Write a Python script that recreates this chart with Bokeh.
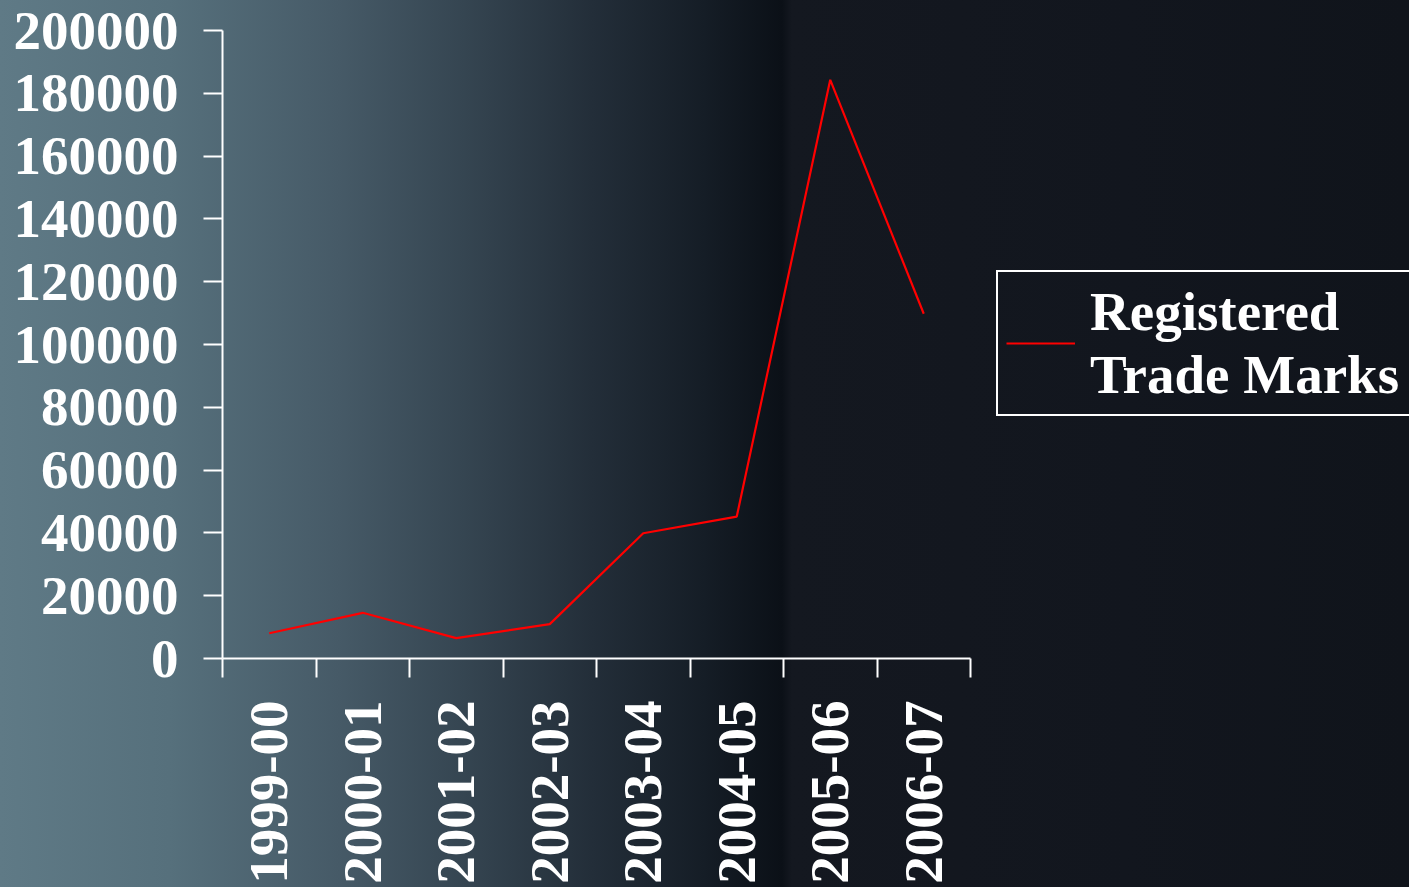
import math
from bokeh.plotting import figure
from bokeh.models import Range1d, FixedTicker, Legend, LegendItem, NumeralTickFormatter
from bokeh.embed import file_html
from bokeh.resources import INLINE

categories = ["1999-00", "2000-01", "2001-02", "2002-03", "2003-04", "2004-05", "2005-06", "2006-07"]
registered = [8050, 14550, 6500, 10950, 39900, 45200, 184300, 109800]
y_ticks = [0, 20000, 40000, 60000, 80000, 100000, 120000, 140000, 160000, 180000, 200000]
series_name = "Registered\nTrade Marks"

FONT = "Liberation Serif"
FSIZE = "55px"
WHITE = "#ffffff"

n = len(categories)
x_pos = [i + 0.5 for i in range(n)]

W, H = 1409, 887
LEFT, TOP, BOTTOM_Y, AXIS_RIGHT = 222, 30, 658, 970
unit = (AXIS_RIGHT - LEFT) / n
x_end = (W - LEFT) / unit

p = figure(width=W, height=H, output_backend="svg", toolbar_location=None,
           x_range=Range1d(0, x_end), y_range=Range1d(0, 200000),
           min_border_left=LEFT, min_border_right=0, min_border_top=TOP,
           min_border_bottom=H - BOTTOM_Y)
p.background_fill_alpha = 0
p.border_fill_alpha = 0
p.outline_line_color = None
p.grid.visible = False

r = p.line(x_pos, registered, line_color="#ff0000", line_width=2.2)

# x axis: ticks between categories, labels at category centres
xa = p.xaxis[0]
xa.bounds = (0, n)
xa.ticker = FixedTicker(ticks=x_pos, minor_ticks=list(range(n + 1)))
xa.major_label_overrides = {x: c for x, c in zip(x_pos, categories)}
xa.major_label_orientation = math.pi / 2
xa.major_tick_out = 0
xa.major_tick_in = 0
xa.minor_tick_out = 19
xa.minor_tick_in = 0
xa.minor_tick_line_color = WHITE
xa.minor_tick_line_width = 2
xa.axis_line_color = WHITE
xa.axis_line_width = 2
xa.major_label_standoff = 23
xa.major_label_text_font = FONT
xa.major_label_text_font_style = "bold"
xa.major_label_text_font_size = FSIZE
xa.major_label_text_color = WHITE

ya = p.yaxis[0]
ya.ticker = FixedTicker(ticks=y_ticks)
ya.formatter = NumeralTickFormatter(format="0")
ya.major_tick_out = 19
ya.major_tick_in = 0
ya.minor_tick_line_color = None
ya.major_tick_line_color = WHITE
ya.major_tick_line_width = 2
ya.axis_line_color = WHITE
ya.axis_line_width = 2
ya.major_label_standoff = 25
ya.major_label_text_font = FONT
ya.major_label_text_font_style = "bold"
ya.major_label_text_font_size = FSIZE
ya.major_label_text_color = WHITE

legend = Legend(items=[LegendItem(label=series_name, renderers=[r])],
                location=(996 - LEFT, BOTTOM_Y - 416))
legend.label_text_font = FONT
legend.label_text_font_style = "bold"
legend.label_text_font_size = FSIZE
legend.label_text_color = WHITE
legend.label_text_line_height = 1.13
legend.label_width = 340
legend.glyph_width = 69
legend.label_standoff = 15
legend.padding = 8
legend.margin = 0
legend.border_line_color = WHITE
legend.border_line_alpha = 1.0
legend.border_line_width = 2
legend.background_fill_alpha = 0
p.add_layout(legend, "center")

html = file_html(p, INLINE)
css = """<style>
html { height: 100%; }
body {
  margin: 0;
  background-color: #12161d;
  background-image: linear-gradient(to right, #5f7a86 0%, #56707c 12%, #465a67 24%, #354551 33%, #232e39 42%, #151d26 50%, #0b1017 55.5%, #141820 56.2%, #12161e 80%, #10141b 100%);
  background-repeat: no-repeat;
  background-attachment: fixed;
}
</style>
</head>"""
html = html.replace("</head>", css, 1)
open("out.html", "w").write(html)
